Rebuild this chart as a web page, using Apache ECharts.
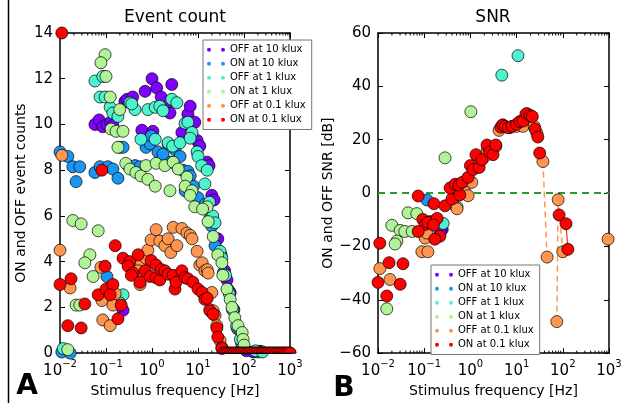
<!DOCTYPE html>
<html>
<head>
<meta charset="utf-8">
<script src="https://cdn.jsdelivr.net/npm/echarts@6/dist/echarts.min.js"></script>
<style>
  html, body { margin: 0; padding: 0; background: #fff; }
  #main { width: 629px; height: 403px; }
</style>
</head>
<body>
<div id="main"></div>
<script>
// names / colours (rainbow colormap, 6 steps)
const seriesNames = ['OFF at 10 klux', 'ON at 10 klux', 'OFF at 1 klux', 'ON at 1 klux', 'OFF at 0.1 klux', 'ON at 0.1 klux'];
const seriesColors = ['#8000ff', '#1a96f2', '#4df3ce', '#b2f396', '#ff964f', '#ff0000'];

// x values are log10(frequency in Hz), y = event count
const countOff10 = [[-1.24,10.0],[-1.15,10.2],[-1.07,9.9],[-0.98,10.0],[-0.9,10.1],[-0.85,9.95],[-0.59,11.0],[-0.54,11.1],[-0.42,11.2],
  [-0.22,9.75],[-0.15,11.45],[0,12.0],[0.02,9.7],[0.1,11.6],[0.2,11.2],[0.3,10.7],[0.39,10.5],[0.43,11.75],[0.65,9.65],[0.78,10.45],
  [0.83,10.8],[0.93,10.1],[0.98,9.3],[1.04,9.06],[1.2,8.35],[1.24,8.2],[1.3,6.9],[1.35,6.7],[1.43,5.0],[1.5,4.3],[1.58,3.6],[1.63,3.2],
  [1.7,2.65],[1.78,1.9],[1.87,1.05],[1.95,0.5],[2.05,0.1],[2.2,0.05],[2.35,0.08],[-0.63,1.87]];
const countOn10 = [[-2,8.8],[-1.83,8.6],[-1.72,8.15],[-1.57,8.15],[-1.65,7.5],[-1.24,7.9],[-1.13,8.15],[-0.96,8.15],[-0.85,8.05],
  [-0.74,7.65],[-0.7,9.0],[-0.63,9.0],[-0.52,8.2],[-0.37,8.2],[-0.26,8.15],[-0.13,9.0],[-0.04,9.15],[-0.02,9.5],[0.13,8.8],[0.24,8.7],
  [0.35,9.15],[0.41,8.35],[0.5,8.9],[0.61,8.6],[0.67,8.0],[0.78,7.95],[0.83,7.75],[0.9,7.3],[0.72,7.1],[1.0,6.8],[1.15,6.5],[1.26,5.9],
  [1.3,5.55],[1.37,4.7],[1.45,4.3],[1.55,3.5],[1.65,2.8],[1.75,1.9],[1.85,1.1],[1.95,0.4],[-0.98,3.35],[-1.96,0.05],[-1.78,0.0],[2.3,0.05]];
const countOff1 = [[-1.24,11.9],[-1.07,12.1],[-1.13,11.2],[-1.02,11.2],[-0.91,10.75],[-0.85,10.5],[-0.74,10.35],[-0.48,10.95],[-0.37,10.65],
  [-0.44,10.9],[-0.09,10.65],[0.07,10.75],[0.17,10.8],[0.24,10.6],[-0.24,9.35],[0.07,9.35],[0.35,9.2],[0.45,9.05],[0.43,11.1],[0.54,10.95],
  [0.61,9.2],[0.72,10.05],[0.78,10.1],[0.87,9.65],[0.83,9.4],[0.98,8.8],[1.0,8.6],[1.08,8.2],[1.2,8.0],[1.15,7.4],[1.25,6.6],[1.32,6.0],
  [1.37,5.7],[1.48,4.45],[1.52,4.15],[1.6,3.4],[1.68,2.6],[1.76,1.9],[1.84,1.2],[1.92,0.6],[2.0,0.2],[-0.63,2.55],[-0.7,2.2],[-1.93,0.2],
  [2.25,0.1],[2.4,0.05]];
const countOn1 = [[-1.02,13.05],[-1.11,12.7],[-1.0,12.1],[-0.91,11.2],[-0.7,10.65],[-0.89,9.8],[-0.78,9.7],[-0.63,9.7],[-0.74,9.0],
  [-0.57,8.3],[-0.48,8.05],[-0.35,7.9],[-0.24,7.75],[-0.13,8.2],[-0.09,7.6],[0.07,7.3],[0.09,8.3],[0.28,8.2],[0.46,8.35],[0.39,7.1],
  [0.57,8.05],[0.76,7.7],[0.72,7.3],[0.87,7.1],[0.83,6.9],[0.93,6.4],[1.2,6.4],[1.1,6.3],[1.22,5.75],[1.33,5.1],[1.43,4.3],[1.52,3.95],
  [1.54,3.4],[1.63,2.8],[1.7,2.35],[1.74,2.0],[1.8,1.55],[1.87,1.2],[1.96,0.9],[1.98,0.6],[2.0,0.35],[-1.72,5.8],[-1.54,5.65],[-1.17,5.35],
  [-1.35,4.3],[-1.46,3.95],[-1.28,3.35],[-1.65,2.1],[-1.57,2.1],[-1.83,0.15]];
const countOff01 = [[-1.96,8.65],[-2,4.5],[-1.78,2.85],[-1.09,2.3],[-1.07,1.45],[-0.91,1.2],[-1.11,3.75],[-0.91,2.8],[-0.8,2.6],[-0.85,2.1],
  [-0.26,3.95],[-0.3,3.6],[-0.13,4.15],[-0.09,4.5],[-0.02,4.95],[0.09,5.4],[0.17,4.9],[0.28,4.7],[0.35,5.0],[0.46,5.5],[0.41,4.4],
  [-0.26,3.0],[0.54,4.7],[0.65,5.45],[0.76,5.25],[0.83,5.15],[0.87,5.0],[0.98,4.45],[1.04,3.85],[1.09,3.95],[1.15,3.6],[1.2,3.65],
  [1.22,3.5],[1.3,2.65],[1.26,1.9],[1.33,1.85],[1.37,1.65],[1.41,1.2],[1.48,0.55],[1.52,0.25]];
const countOn01 = [[-1.96,14.0],[-1.09,8.0],[-2,3.0],[-1.76,3.25],[-1.46,2.15],[-1.83,1.2],[-1.54,1.1],[-1.02,3.8],[-0.8,4.7],[-1.17,2.55],
  [-1.0,2.8],[-0.85,3.0],[-0.91,2.55],[-0.67,2.1],[-0.74,1.5],[-0.63,4.15],[-0.48,4.0],[-0.52,3.8],[-0.3,4.3],[-0.41,3.5],[-0.45,3.4],
  [-0.26,3.1],[-0.15,3.6],[-0.04,3.35],[-0.02,4.05],[0.09,3.85],[0.09,3.3],[0.17,3.2],[0.2,3.65],[0.28,3.6],[0.35,3.45],[0.46,3.4],
  [0.5,2.8],[0.52,3.1],[0.65,3.6],[0.72,3.3],[0.78,3.25],[0.89,3.1],[1.0,2.8],[1.09,2.65],[1.15,2.35],[1.2,2.4],[1.26,1.85],[1.33,1.7],
  [1.41,1.1],[1.43,0.7],[1.52,0.2]];
// frequencies (log10 Hz) where the 0.1 klux counts are zero
const zeroTailExp = [1.55,1.6,1.65,1.7,1.75,1.8,1.85,1.9,1.95,2.0,2.05,2.1,2.15,2.2,2.25,2.3,2.35,2.4,2.45,2.5,2.55,2.6,2.65,2.7,2.75,2.8,2.85,2.9,2.95,3.0];

// SNR [dB]
const snrOff10 = [[-0.61,-13.6],[-0.65,-14.5]];
const snrOn10 = [[-0.94,-2.6]];
const snrOff1 = [[0.68,44.2],[1.03,51.5],[-0.59,-11.4],[-0.29,-5.2]];
const snrOn1 = [[0.01,30.5],[-0.55,13.2],[-1.35,-7.4],[-1.16,-7.7],[-1.7,-12.1],[-1.52,-14.0],[-1.42,-14.4],[-1.26,-14.4],[-1.59,-18.0],
  [-1.63,-19.1],[-1.81,-43.4]];
const snrOff01 = [[-1.96,-28.3],[-1.74,-32.4],[-0.98,-16.9],[-1.05,-22],[-0.92,-22],[-0.94,-15],[-0.38,-4.0],[-0.29,-5.9],[-0.12,0.4],
  [0.03,4.0],[-0.05,-1.0],[0.15,11],[0.3,13.5],[0.36,15.8],[0.4,16.5],[0.55,17.5],[0.62,23.5],[0.7,25.5],[0.85,24.5],[1.0,25],[1.14,25],
  [1.2,29.5],[1.3,27.5],[1.38,25],[1.44,22.4],[2.98,-17.3]];
const snrOff01Tail = [[1.57,11.8],[1.66,-24],null,[1.87,-48.2],[1.9,-2.5],[2.0,-22]];
const snrOn01 = [[-1.96,-18.8],[-1.76,-26.1],[-1.46,-26.5],[-1.52,-34.2],[-1.81,-38.6],[-2,-33.5],[-1.03,-9.9],[-0.87,-10.7],[-0.98,-11.8],
  [-0.92,-11],[-1.13,-14.4],[-0.66,-16.2],[-0.77,-17.3],[-0.72,-9.5],[-0.8,-12],[-1.13,-1.1],[-0.79,-4.0],[-0.55,-4.8],[-0.4,-2.2],
  [-0.23,-0.7],[-0.44,1.9],[-0.33,3.3],[-0.25,3.0],[-0.18,4.0],[-0.05,5.9],[0,10.3],[0.06,8.8],[0.12,14.4],[0.19,9.6],[0.25,12.5],
  [0.36,18.0],[0.42,15.4],[0.49,14.4],[0.55,18.0],[0.66,24.7],[0.7,25.5],[0.75,25.0],[0.82,24.5],[0.9,25.0],[1.0,25.8],[1.07,26.8],
  [1.14,27],[1.22,29.8],[1.29,29.1],[1.34,28.7],[1.4,24],[1.46,21],[1.5,15]];
const snrOn01Tail = [[1.92,-8.2],[2.07,-11.5],[2.11,-21.1]];

// log10 -> Hz
function toHz(arr) {
    return arr.map(p => p === null ? [null, null] : [Math.pow(10, p[0]), p[1]]);
}

var chartDom = document.getElementById('main');
var myChart = echarts.init(chartDom, null, { renderer: 'canvas' });
const FONT = 'DejaVu Sans';

function xAxisCfg(gridIndex, top) {
    return {
        type: 'log', logBase: 10, gridIndex: gridIndex, min: 0.01, max: 1000,
        position: top ? 'top' : 'bottom',
        axisLine: { show: true, onZero: false, lineStyle: { color: '#000', width: 1.5 } },
        axisTick: { show: true, inside: true, length: 5, lineStyle: { color: '#000' } },
        splitLine: { show: false },
        name: top ? '' : 'Stimulus frequency [Hz]',
        nameLocation: 'middle', nameGap: 24,
        nameTextStyle: { fontFamily: FONT, fontSize: 14, color: '#000' },
        axisLabel: {
            show: !top, margin: 6, color: '#000', fontFamily: FONT,
            formatter: function (v) { return '{b|10}{s|' + String(Math.round(Math.log10(v))).replace('-', '\u2212') + '}'; },
            rich: {
                b: { fontSize: 15, fontFamily: FONT, color: '#000', verticalAlign: 'bottom' },
                s: { fontSize: 10, fontFamily: FONT, color: '#000', verticalAlign: 'top', padding: [0, 0, 10, 0] }
            }
        }
    };
}
function yAxisCfg(gridIndex, right, min, max, interval, name, gap) {
    return {
        type: 'value', gridIndex: gridIndex, min: min, max: max, interval: interval,
        position: right ? 'right' : 'left',
        axisLine: { show: true, onZero: false, lineStyle: { color: '#000', width: 1.5 } },
        axisTick: { show: true, inside: true, length: 5, lineStyle: { color: '#000' } },
        splitLine: { show: false },
        name: right ? '' : name, nameLocation: 'middle', nameGap: gap, nameRotate: 90,
        nameTextStyle: { fontFamily: FONT, fontSize: 14, color: '#000' },
        axisLabel: {
            show: !right, margin: 7, color: '#000', fontFamily: FONT, fontSize: 15,
            formatter: function (v) { return String(v).replace('-', '\u2212'); }
        }
    };
}

// minor ticks of the log axes (2..9 x 10^n), drawn through the axis scale
const minorVals = [];
for (let e = -2; e < 3; e++) {
    for (let k = 2; k < 10; k++) minorVals.push([k * Math.pow(10, e)]);
}
function minorTickSeries(xi, yi, ymin, ymax) {
    return {
        type: 'custom', xAxisIndex: xi, yAxisIndex: yi, silent: true, clip: false, z: 1,
        data: minorVals.map(v => [v[0], ymin]),
        encode: { x: 0, y: 1 },
        renderItem: function (params, api) {
            const b = api.coord([api.value(0), ymin]);
            const t = api.coord([api.value(0), ymax]);
            const st = { stroke: '#000', lineWidth: 1 };
            return { type: 'group', children: [
                { type: 'line', shape: { x1: b[0], y1: b[1], x2: b[0], y2: b[1] - 2.5 }, style: st },
                { type: 'line', shape: { x1: t[0], y1: t[1], x2: t[0], y2: t[1] + 2.5 }, style: st }
            ] };
        }
    };
}

function scatter(name, idx, data, axisIdx) {
    return {
        type: 'scatter', name: name, xAxisIndex: axisIdx, yAxisIndex: axisIdx,
        data: toHz(data), symbolSize: 12,
        itemStyle: { color: seriesColors[idx], borderColor: '#000', borderWidth: 0.7, opacity: 1 },
        z: 3 + idx
    };
}
// zero counts sit on the x axis: only the upper half of the marker is visible
const halfDisc = 'path://M0,10A10,10 0 0,1 20,10Z';
function zeroRow(name, idx) {
    return {
        type: 'scatter', name: name, xAxisIndex: 0, yAxisIndex: 0,
        data: toHz(zeroTailExp.map(e => [e, 0])),
        symbol: halfDisc, symbolSize: [12, 6], symbolOffset: [0, -3],
        itemStyle: { color: seriesColors[idx], borderColor: '#000', borderWidth: 0.7, opacity: 1 },
        z: 3 + idx
    };
}

const legendIcon = 'path://M0,2a2,2 0 1,0 4,0a2,2 0 1,0 -4,0Z M14,2a2,2 0 1,0 4,0a2,2 0 1,0 -4,0Z';
function legendCfg(left, top) {
    return {
        data: seriesNames, orient: 'vertical', left: left, top: top,
        icon: legendIcon, itemWidth: 18, itemHeight: 4, itemGap: 2.5,
        itemStyle: { borderWidth: 0 },
        padding: [4, 6, 4, 4], backgroundColor: '#fff',
        borderColor: '#777', borderWidth: 1, borderRadius: 0,
        textStyle: { fontFamily: FONT, fontSize: 10, color: '#000', lineHeight: 11.5 },
        selectedMode: false
    };
}

var option = {
    animation: false,
    backgroundColor: '#fff',
    grid: [
        { left: 60, top: 33, width: 230, height: 323 },
        { left: 378, top: 33, width: 231, height: 322 }
    ],
    xAxis: [xAxisCfg(0, false), xAxisCfg(0, true), xAxisCfg(1, false), xAxisCfg(1, true)],
    yAxis: [
        yAxisCfg(0, false, 0, 14, 2, 'ON and OFF event counts', 32),
        yAxisCfg(0, true, 0, 14, 2, '', 0),
        yAxisCfg(1, false, -60, 60, 20, 'ON and OFF SNR [dB]', 42),
        yAxisCfg(1, true, -60, 60, 20, '', 0)
    ],
    legend: [legendCfg(203, 40), legendCfg(431, 265)],
    graphic: [
        { type: 'line', shape: { x1: 8.5, y1: 0, x2: 8.5, y2: 403 }, style: { stroke: '#000', lineWidth: 1.5 } },
        { type: 'text', x: 175, y: 18, style: { text: 'Event count', fontFamily: FONT, fontSize: 17, fill: '#000', textAlign: 'center', textVerticalAlign: 'middle' } },
        { type: 'text', x: 493, y: 18, style: { text: 'SNR', fontFamily: FONT, fontSize: 17, fill: '#000', textAlign: 'center', textVerticalAlign: 'middle' } },
        { type: 'text', x: 27, y: 387, style: { text: 'A', fontFamily: FONT, fontSize: 28, fontWeight: 'bold', fill: '#000', textAlign: 'center', textVerticalAlign: 'middle' } },
        { type: 'text', x: 344, y: 389, style: { text: 'B', fontFamily: FONT, fontSize: 28, fontWeight: 'bold', fill: '#000', textAlign: 'center', textVerticalAlign: 'middle' } }
    ],
    series: [
        minorTickSeries(0, 0, 0, 14),
        minorTickSeries(2, 2, -60, 60),
        // event count panel
        scatter(seriesNames[0], 0, countOff10, 0),
        scatter(seriesNames[1], 1, countOn10, 0),
        scatter(seriesNames[2], 2, countOff1, 0),
        scatter(seriesNames[3], 3, countOn1, 0),
        scatter(seriesNames[4], 4, countOff01, 0),
        zeroRow(seriesNames[4], 4),
        scatter(seriesNames[5], 5, countOn01, 0),
        zeroRow(seriesNames[5], 5),
        // SNR panel
        Object.assign(scatter(seriesNames[0], 0, snrOff10, 2), {
            markLine: {
                silent: true, symbol: 'none', label: { show: false },
                lineStyle: { color: '#2a9a2a', type: [7, 5], width: 2 },
                data: [{ yAxis: 0 }]
            }
        }),
        scatter(seriesNames[1], 1, snrOn10, 2),
        scatter(seriesNames[2], 2, snrOff1, 2),
        scatter(seriesNames[3], 3, snrOn1, 2),
        scatter(seriesNames[4], 4, snrOff01, 2),
        {
            type: 'line', name: seriesNames[4], xAxisIndex: 2, yAxisIndex: 2, data: toHz(snrOff01Tail),
            symbol: 'circle', symbolSize: 12, connectNulls: false, z: 7,
            lineStyle: { color: seriesColors[4], width: 1.5, type: [6, 4] },
            itemStyle: { color: seriesColors[4], borderColor: '#000', borderWidth: 0.7 }
        },
        scatter(seriesNames[5], 5, snrOn01, 2),
        {
            type: 'line', name: seriesNames[5], xAxisIndex: 2, yAxisIndex: 2, data: toHz(snrOn01Tail),
            symbol: 'circle', symbolSize: 12, z: 8,
            lineStyle: { color: seriesColors[5], width: 1 },
            itemStyle: { color: seriesColors[5], borderColor: '#000', borderWidth: 0.7 }
        }
    ]
};

myChart.setOption(option);
</script>
</body>
</html>
